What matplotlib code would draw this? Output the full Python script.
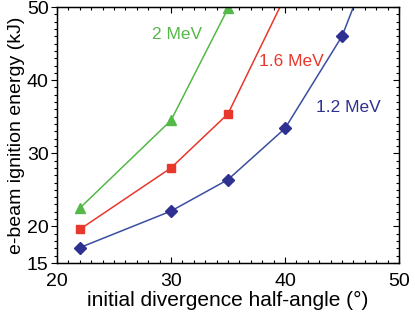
import matplotlib
matplotlib.use("Agg")
import matplotlib.pyplot as plt
from matplotlib.ticker import FixedLocator, MultipleLocator

plt.rcParams['font.family'] = ['Liberation Sans', 'DejaVu Sans']

# data
angle_12 = [22, 30, 35, 40, 45, 47]
energy_12 = [17.1, 22.1, 26.4, 33.4, 46.0, 54.0]
angle_16 = [22, 30, 35, 40]
energy_16 = [19.6, 28.0, 35.4, 51.4]
angle_20 = [22, 30, 35]
energy_20 = [22.5, 34.5, 49.8]
labels = ["1.2 MeV", "1.6 MeV", "2 MeV"]
label_pos = [(45.6, 36.3), (40.6, 42.5), (30.5, 46.2)]

c_blue_line = '#3a4ea0'
c_blue = '#2e3192'
c_red = '#e8372b'
c_green = '#55b848'

fig = plt.figure(figsize=(4.15, 3.13), dpi=100)
ax = fig.add_axes([57/415, 1-263/313, (399-57)/415, (263-7)/313])

ax.plot(angle_12, energy_12, color=c_blue_line, lw=1.1, marker='D', ms=6,
        mfc=c_blue, mec=c_blue)
ax.plot(angle_16, energy_16, color=c_red, lw=1.1, marker='s', ms=6,
        mfc=c_red, mec=c_red)
ax.plot(angle_20, energy_20, color=c_green, lw=1.1, marker='^', ms=7,
        mfc=c_green, mec=c_green)

cols = [c_blue, c_red, c_green]
for lab, (x, y), c in zip(labels, label_pos, cols):
    ax.text(x, y, lab, color=c, fontsize=12.5, ha='center', va='center')

ax.set_xlim(20, 50)
ax.set_ylim(15, 50)
ax.xaxis.set_major_locator(FixedLocator([20, 30, 40, 50]))
ax.xaxis.set_minor_locator(MultipleLocator(1))
ax.yaxis.set_major_locator(FixedLocator([15, 20, 30, 40, 50]))
ax.yaxis.set_minor_locator(MultipleLocator(1))

ax.tick_params(axis='x', which='both', direction='in', top=True, bottom=True,
               labelsize=14, pad=7)
ax.tick_params(axis='y', which='both', direction='out', left=True, right=False,
               labelsize=14, pad=2)
ax.tick_params(which='major', length=4, width=0.8)
ax.tick_params(which='minor', length=2.5, width=0.8)

# right axis inward ticks
ax2 = ax.twinx()
ax2.set_ylim(15, 50)
ax2.yaxis.set_major_locator(FixedLocator([15, 20, 30, 40, 50]))
ax2.yaxis.set_minor_locator(MultipleLocator(1))
ax2.tick_params(axis='y', which='both', direction='in', labelright=False)
ax2.tick_params(which='major', length=4, width=0.8)
ax2.tick_params(which='minor', length=2.5, width=0.8)

for s in ax.spines.values():
    s.set_linewidth(1.0)

ax.set_xlabel('initial divergence half-angle (°)', fontsize=15, labelpad=1)
ax.set_ylabel('e-beam ignition energy (kJ)', fontsize=14, labelpad=1)

fig.savefig('out.png', dpi=100)
